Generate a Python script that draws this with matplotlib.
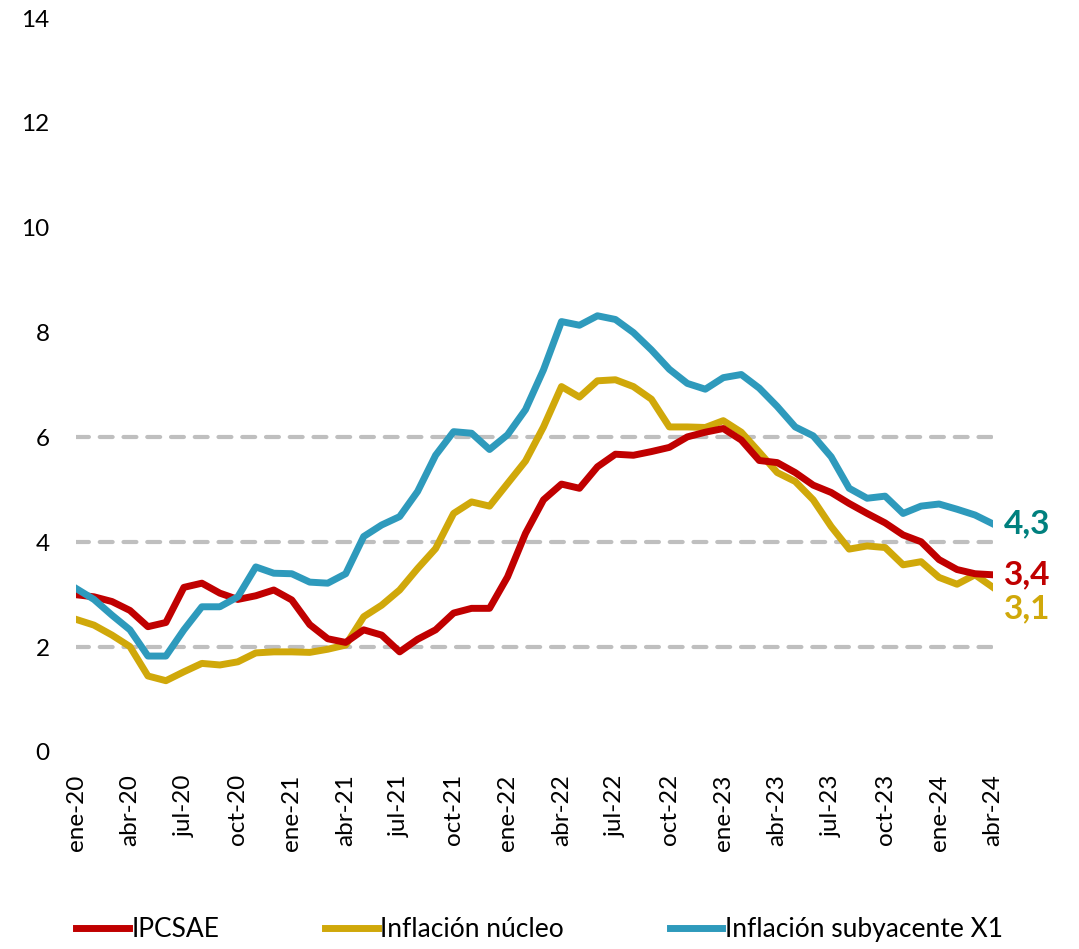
import matplotlib
matplotlib.use('Agg')
import matplotlib.pyplot as plt
import numpy as np

plt.rcParams['font.family'] = ['Lato', 'DejaVu Sans']

# monthly data, ene-20 .. abr-24
ipcsae = [3.0, 2.96, 2.87, 2.70, 2.39, 2.47, 3.14, 3.22, 3.03, 2.91, 2.98, 3.09,
          2.90, 2.43, 2.16, 2.09, 2.33, 2.23, 1.91, 2.15, 2.33, 2.65, 2.74, 2.74,
          3.34, 4.17, 4.81, 5.11, 5.03, 5.44, 5.68, 5.66, 5.73, 5.81, 6.01, 6.10,
          6.17, 5.95, 5.56, 5.52, 5.33, 5.09, 4.95, 4.74, 4.55, 4.37, 4.14, 4.01,
          3.67, 3.48, 3.40, 3.38]
nucleo = [2.53, 2.42, 2.23, 2.01, 1.45, 1.36, 1.53, 1.69, 1.66, 1.72, 1.89, 1.91,
          1.91, 1.90, 1.96, 2.04, 2.58, 2.80, 3.09, 3.50, 3.88, 4.55, 4.77, 4.69,
          5.12, 5.55, 6.20, 6.97, 6.77, 7.08, 7.10, 6.97, 6.73, 6.20, 6.20, 6.19,
          6.32, 6.10, 5.72, 5.33, 5.16, 4.81, 4.30, 3.87, 3.93, 3.90, 3.57, 3.63,
          3.33, 3.20, 3.38, 3.14]
x1 = [3.12, 2.91, 2.61, 2.33, 1.83, 1.83, 2.33, 2.77, 2.77, 2.96, 3.53, 3.41,
      3.40, 3.24, 3.22, 3.40, 4.11, 4.33, 4.49, 4.97, 5.66, 6.11, 6.08, 5.77,
      6.05, 6.53, 7.29, 8.21, 8.14, 8.32, 8.25, 8.00, 7.67, 7.30, 7.03, 6.92,
      7.14, 7.20, 6.94, 6.59, 6.20, 6.03, 5.63, 5.03, 4.84, 4.88, 4.55, 4.69,
      4.73, 4.63, 4.52, 4.35]
meses = ['ene', 'feb', 'mar', 'abr', 'may', 'jun', 'jul', 'ago', 'sep', 'oct', 'nov', 'dic']
etiquetas = ['{}-{}'.format(meses[i % 12], 20 + i // 12) for i in range(len(ipcsae))]
end_labels = ['4,3', '3,4', '3,1']
rango_meta = [2, 4, 6]

RED = '#C00000'
GOLD = '#D0A80A'
BLUE = '#2E9ABC'
TEAL = '#00807E'

x = np.arange(len(ipcsae))

fig = plt.figure(figsize=(10.79, 9.49), dpi=100)
ax = fig.add_axes([76 / 1079, 1 - 752 / 949, (993 - 76) / 1079, (752 - 18) / 949])

for yv in rango_meta:
    ax.plot([0, x[-1]], [yv, yv], color='#BFBFBF', lw=3, dashes=(3.1, 2.6),
            dash_capstyle='round', zorder=1)

ax.plot(x, ipcsae, color=RED, lw=5, label='IPCSAE', zorder=3)
ax.plot(x, nucleo, color=GOLD, lw=5, label='Inflación núcleo', zorder=2)
ax.plot(x, x1, color=BLUE, lw=5, label='Inflación subyacente X1', zorder=4)

ax.set_xlim(0, x[-1])
ax.set_ylim(0, 14)
ax.set_yticks(range(0, 15, 2))
ax.set_xticks(x[::3])
ax.set_xticklabels(etiquetas[::3], rotation=90)
ax.tick_params(axis='both', length=0, labelsize=17.5)
ax.tick_params(axis='y', pad=19)
ax.tick_params(axis='x', pad=16)
for s in ax.spines.values():
    s.set_visible(False)

# end-of-series labels
ax.annotate(end_labels[0], (x[-1], x1[-1]), xytext=(8, 0), textcoords='offset points',
            color=TEAL, fontsize=24, fontweight='bold', va='center', ha='left')
ax.annotate(end_labels[1], (x[-1], ipcsae[-1]), xytext=(8, 0), textcoords='offset points',
            color=RED, fontsize=24, fontweight='bold', va='center', ha='left')
ax.annotate(end_labels[2], (x[-1], nucleo[-1] - 0.4), xytext=(8, 0), textcoords='offset points',
            color=GOLD, fontsize=24, fontweight='bold', va='center', ha='left')

fig.legend(loc='lower center', bbox_to_anchor=(0.5, -0.018), ncol=3, frameon=False,
           fontsize=19, handlelength=2.0, handletextpad=0.1, columnspacing=4.0)

fig.savefig('out.png', dpi=100)
